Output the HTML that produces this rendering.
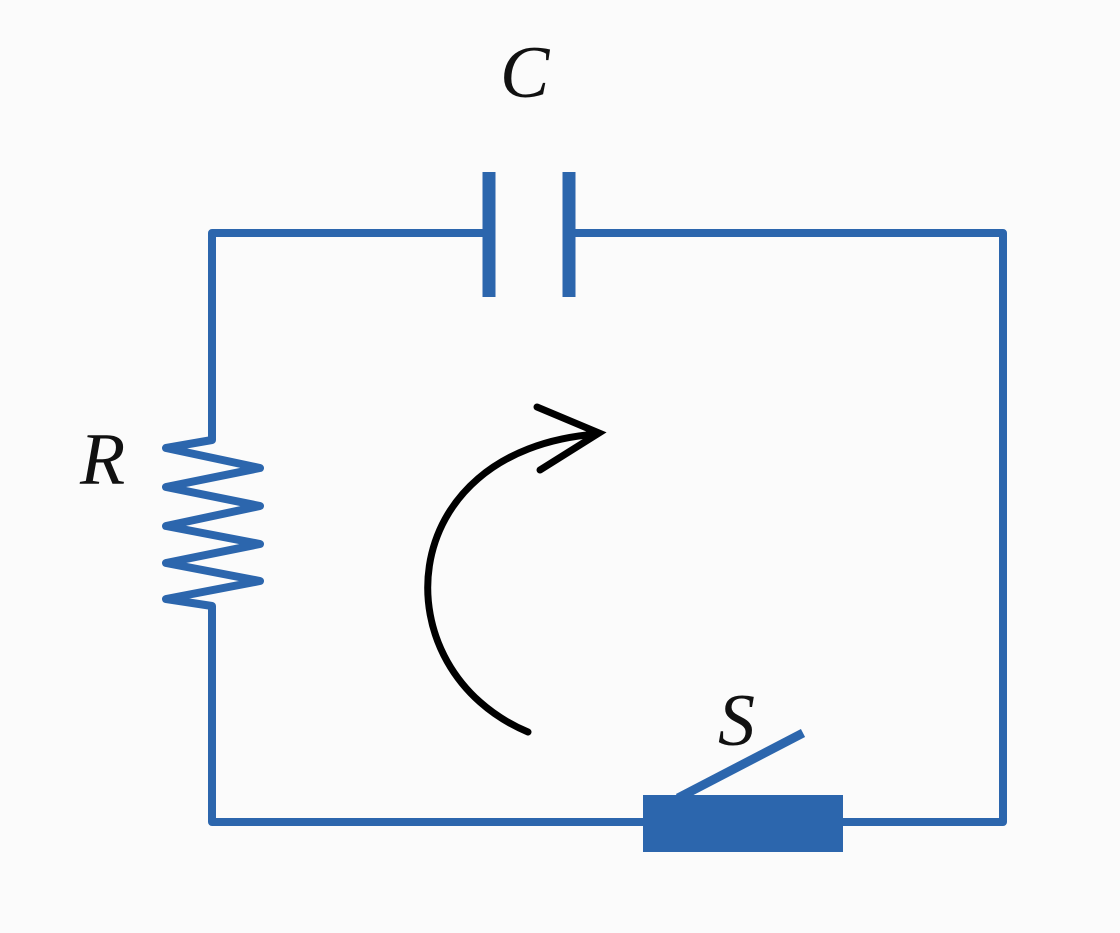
<!DOCTYPE html>
<html><head><style>html,body{margin:0;padding:0;background:#fbfbfb;}</style></head>
<body>
<svg width="1120" height="928" viewBox="0 0 1120 928" xmlns="http://www.w3.org/2000/svg">
<g fill="none" stroke="#2c66ad" stroke-width="8" stroke-linejoin="round" stroke-linecap="round">
<path d="M484,233 H212 V440 L166,448 L260,468 L166,487 L260,506 L166,526 L260,544 L166,563 L260,581 L166,599 L212,606 V822 H645"/>
<path d="M575,233 H1003 V822 H840"/>
</g>
<g stroke="#2c66ad" stroke-width="13">
<line x1="489" y1="172" x2="489" y2="297"/>
<line x1="569" y1="172" x2="569" y2="297"/>
</g>
<rect x="643" y="795" width="200" height="57" fill="#2c66ad"/>
<line x1="678" y1="798" x2="803" y2="733" stroke="#2c66ad" stroke-width="9"/>
<g fill="none" stroke="#000" stroke-width="7" stroke-linecap="round">
<path d="M528,732 C380,670 390,450 597,434"/>
<path d="M537,407 L599,433 L540,470"/>
</g>
<g font-family="Liberation Serif, serif" font-style="italic" font-size="74" fill="#111">
<text x="500" y="97">C</text>
<text x="80" y="484">R</text>
<text x="718" y="745">S</text>
</g>
</svg>
</body></html>
